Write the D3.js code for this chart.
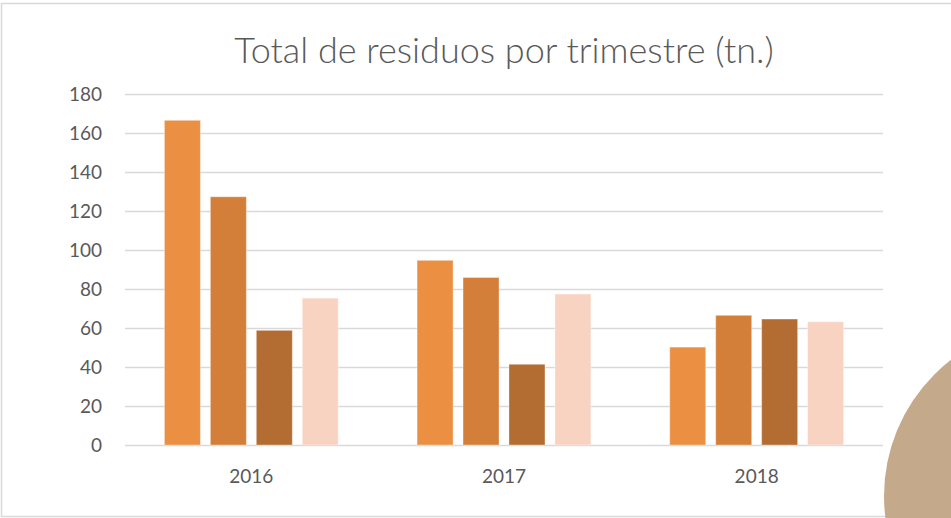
<!DOCTYPE html>
<html>
<head>
<meta charset="utf-8">
<script src="https://cdn.jsdelivr.net/npm/d3@7"></script>
<style>
  body { margin: 0; background: #fff; overflow: hidden; }
  text { font-family: Lato, 'Open Sans', sans-serif; fill: #595959; }
</style>
</head>
<body>
<svg id="chart" width="951" height="518"></svg>
<script>
// data
var years = [ '2016', '2017', '2018' ];
var quarters = [ 'T1', 'T2', 'T3', 'T4' ];
var t1 = [ 166.5, 94.7, 50.2 ];
var t2 = [ 127.3, 85.9, 66.5 ];
var t3 = [ 58.8, 41.4, 64.6 ];
var t4 = [ 75.3, 77.4, 63.2 ];
var yTicks = [ 0, 20, 40, 60, 80, 100, 120, 140, 160, 180 ];
var title = 'Total de residuos por trimestre (tn.)';

var svg = d3.select( '#chart' ),
  margin = { top: 94, right: 68, bottom: 73, left: 125 },
  width = +svg.attr( 'width' ),
  height = +svg.attr( 'height' );

var table = years.map( ( y, i ) => ( { year: y, T1: t1[ i ], T2: t2[ i ], T3: t3[ i ], T4: t4[ i ] } ) );

var x0 = d3.scaleBand()
  .domain( years )
  .range( [ margin.left, width - margin.right ] )
  .paddingInner( 0.312 )
  .paddingOuter( 0.156 );

var x1 = d3.scaleBand()
  .domain( quarters )
  .range( [ 0, x0.bandwidth() ] )
  .paddingInner( 0.217 );

var y = d3.scaleLinear()
  .domain( [ 0, 180 ] )
  .range( [ height - margin.bottom, margin.top ] );

var z = d3.scaleOrdinal()
  .domain( quarters )
  .range( [ '#EB8F43', '#D37F39', '#B36C31', '#F9D3C1' ] );

// chart frame
svg.append( 'rect' )
  .attr( 'x', 1.5 )
  .attr( 'y', 3.5 )
  .attr( 'width', 1000 )
  .attr( 'height', 513 )
  .attr( 'fill', '#fff' )
  .attr( 'stroke', '#D9D9D9' )
  .attr( 'stroke-width', 1.5 );

svg.append( 'text' )
  .attr( 'x', 504 )
  .attr( 'y', 63 )
  .attr( 'text-anchor', 'middle' )
  .style( 'font-size', '36px' )
  .style( 'font-weight', 300 )
  .text( title );

// grid + y labels
var yAxis = svg.append( 'g' )
  .attr( 'class', 'y-axis' )
  .attr( 'transform', 'translate(' + margin.left + ',0)' )
  .call( d3.axisLeft( y ).tickValues( yTicks ).tickSize( -( width - margin.right - margin.left ) ).tickPadding( 23 ) );

yAxis.select( '.domain' ).remove();
yAxis.selectAll( '.tick line' )
  .attr( 'stroke', '#D9D9D9' )
  .attr( 'stroke-width', 1.3 );
yAxis.selectAll( '.tick text' )
  .style( 'font-size', '19px' )
  .attr( 'fill', '#595959' );

// x labels
var xAxis = svg.append( 'g' )
  .attr( 'class', 'x-axis' )
  .attr( 'transform', 'translate(0,' + ( height - margin.bottom ) + ')' )
  .call( d3.axisBottom( x0 ).tickSize( 0 ).tickPadding( 25 ) );

xAxis.select( '.domain' ).remove();
xAxis.selectAll( '.tick text' )
  .style( 'font-size', '19px' )
  .attr( 'fill', '#595959' );

// bars
var groups = svg.selectAll( '.year' )
  .data( table )
  .enter().append( 'g' )
    .attr( 'class', 'year' )
    .attr( 'transform', d => 'translate(' + x0( d.year ) + ',0)' );

groups.selectAll( 'rect' )
  .data( d => quarters.map( q => ( { key: q, value: d[ q ] } ) ) )
  .enter().append( 'rect' )
    .attr( 'x', d => x1( d.key ) )
    .attr( 'y', d => y( d.value ) )
    .attr( 'width', x1.bandwidth() )
    .attr( 'height', d => y( 0 ) - y( d.value ) )
    .attr( 'fill', d => z( d.key ) )
    .attr( 'stroke', 'rgba(255,255,255,0.35)' )
    .attr( 'stroke-width', 1 );

// decorative circle from the slide
svg.append( 'circle' )
  .attr( 'cx', 1056 )
  .attr( 'cy', 496 )
  .attr( 'r', 172 )
  .attr( 'fill', '#C5A98B' );
</script>
</body>
</html>
